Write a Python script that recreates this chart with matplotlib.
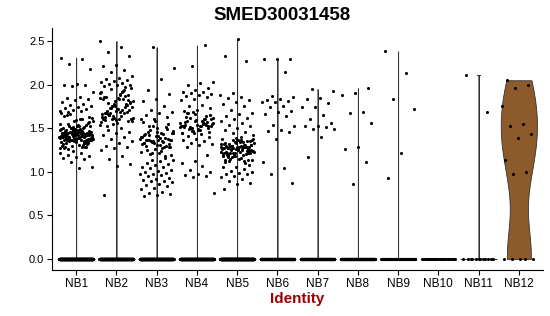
import numpy as np
import matplotlib
matplotlib.use("Agg")
import matplotlib.pyplot as plt

plt.rcParams['font.family'] = ['Liberation Sans', 'DejaVu Sans']

title = "SMED30031458"
xlabel = "Identity"
categories = ["NB1", "NB2", "NB3", "NB4", "NB5", "NB6", "NB7", "NB8", "NB9", "NB10", "NB11", "NB12"]
ytick_labels = ["0.0", "0.5", "1.0", "1.5", "2.0", "2.5"]

# number of cells with zero expression in each identity
zero_counts = [1500, 1200, 1200, 1200, 1500, 500, 450, 400, 120, 30, 12, 5]

# expression values of the non-zero cells
nb1 = [2.31, 2.29, 2.24, 2.18, 2.01, 2.00, 1.99, 1.98, 1.92, 1.86, 1.85, 1.84, 1.82, 1.80, 1.78, 1.77,
       1.75, 1.74, 1.73, 1.72, 1.71, 1.70, 1.70, 1.69,
       1.42, 1.38, 1.45, 1.51, 1.36, 1.40, 1.47, 1.33, 1.44, 1.39, 1.49, 1.41, 1.35, 1.46, 1.52, 1.37,
       1.43, 1.30, 1.48, 1.40, 1.55, 1.38, 1.44, 1.32, 1.41, 1.50, 1.36, 1.46, 1.39, 1.43, 1.58, 1.34,
       1.47, 1.40, 1.37, 1.53, 1.42, 1.29, 1.45, 1.38, 1.60, 1.41, 1.35, 1.49, 1.44, 1.31, 1.46, 1.39,
       1.54, 1.42, 1.36, 1.48, 1.27, 1.43, 1.40, 1.57, 1.37, 1.45, 1.33, 1.50, 1.62, 1.39, 1.44, 1.35,
       1.47, 1.41, 1.28, 1.52, 1.38, 1.46, 1.64, 1.34, 1.43, 1.40, 1.49, 1.36, 1.56, 1.42, 1.30, 1.45,
       1.66, 1.37, 1.48, 1.41, 1.33, 1.51, 1.39, 1.44, 1.26, 1.47, 1.59, 1.40, 1.35, 1.46, 1.42, 1.53,
       1.38, 1.32, 1.49, 1.43, 1.61, 1.36, 1.45, 1.39, 1.47, 1.29, 1.41, 1.55, 1.37, 1.44, 1.63, 1.34,
       1.50, 1.40, 1.46, 1.38, 1.31, 1.48, 1.42, 1.35, 1.67, 1.43, 1.39, 1.52, 1.45, 1.27, 1.41, 1.36,
       1.58, 1.47, 1.65, 1.33, 1.44, 1.40, 1.50, 1.37, 1.46, 1.42, 1.28, 1.54,
       1.24, 1.22, 1.21, 1.19, 1.18, 1.17, 1.16, 1.15, 1.11, 1.06, 1.04]
nb2 = [2.50, 2.43, 2.37, 2.33, 2.22, 2.21, 2.17, 2.15, 2.10, 2.08, 2.06, 2.05, 2.04, 2.03, 2.02, 2.01,
       2.00, 1.99, 1.98, 1.97,
       1.75, 1.62, 1.88, 1.70, 1.58, 1.81, 1.66, 1.93, 1.73, 1.60, 1.85, 1.68, 1.77, 1.55, 1.90, 1.64,
       1.79, 1.71, 1.59, 1.83, 1.67, 1.95, 1.74, 1.61, 1.86, 1.69, 1.78, 1.57, 1.91, 1.65, 1.80, 1.72,
       1.63, 1.87, 1.76, 1.54, 1.89, 1.66, 1.82, 1.70, 1.60, 1.94, 1.73, 1.58, 1.84, 1.68, 1.77, 1.62,
       1.92, 1.71, 1.65, 1.79, 1.56, 1.86, 1.74, 1.61, 1.81, 1.69, 1.53, 1.88, 1.75, 1.63, 1.83, 1.67,
       1.96, 1.72, 1.59, 1.78, 1.64, 1.85,
       1.50, 1.48, 1.46, 1.44, 1.42, 1.40, 1.38, 1.35, 1.33, 1.30, 1.29, 1.27, 1.25, 1.18, 1.15, 1.09,
       1.07, 0.73]
nb3 = [2.43, 2.19, 2.06, 1.94, 1.89, 1.83, 1.81, 1.75, 1.71, 1.69, 1.67, 1.65, 1.63, 1.61, 1.60,
       1.35, 1.42, 1.28, 1.50, 1.33, 1.39, 1.21, 1.45, 1.31, 1.37, 1.55, 1.26, 1.40, 1.34, 1.48, 1.19,
       1.36, 1.43, 1.30, 1.52, 1.38, 1.24, 1.46, 1.32, 1.41, 1.57, 1.29, 1.35, 1.44, 1.22, 1.37, 1.49,
       1.33, 1.40, 1.27, 1.53, 1.36, 1.31, 1.42, 1.18, 1.34, 1.47, 1.39, 1.25, 1.38, 1.58, 1.32, 1.43,
       1.20, 1.36, 1.41, 1.30, 1.51, 1.35, 1.23, 1.44, 1.37, 1.29, 1.46, 1.33,
       1.16, 1.14, 1.13, 1.12, 1.10, 1.09, 1.08, 1.06, 1.05, 1.04, 1.02, 1.01, 1.00, 0.99, 0.98,
       0.97, 0.96, 0.95, 0.93, 0.92, 0.91, 0.90, 0.89, 0.88, 0.86, 0.85, 0.84,
       0.81, 0.80, 0.77, 0.76, 0.75, 0.73, 0.72]
nb4 = [2.45, 2.21, 2.03, 2.02, 1.99, 1.96, 1.94, 1.92, 1.91, 1.90, 1.89, 1.88, 1.87, 1.86, 1.84, 1.82,
       1.77, 1.75, 1.73, 1.71, 1.70,
       1.55, 1.50, 1.62, 1.48, 1.58, 1.53, 1.66, 1.45, 1.57, 1.51, 1.60, 1.49, 1.54, 1.64, 1.47, 1.56,
       1.52, 1.68, 1.46, 1.59, 1.53, 1.61, 1.50, 1.55, 1.48, 1.63, 1.57, 1.44, 1.52, 1.58, 1.49, 1.65,
       1.54, 1.51, 1.60, 1.47, 1.56, 1.53, 1.67, 1.50, 1.58, 1.45, 1.55, 1.62, 1.52, 1.48, 1.57, 1.54,
       1.69, 1.51,
       1.43, 1.41, 1.40, 1.38, 1.36, 1.35, 1.33, 1.32, 1.31, 1.29, 1.19, 1.12, 1.10, 1.07, 1.02, 1.00,
       0.98, 0.96, 0.95, 0.94, 0.76]
nb5 = [2.52, 2.33, 2.27, 1.90, 1.88, 1.86, 1.85, 1.82, 1.80, 1.78, 1.75, 1.71, 1.68, 1.66, 1.64, 1.62,
       1.60, 1.58, 1.56, 1.54, 1.52, 1.50, 1.48, 1.46, 1.44, 1.42, 1.40,
       1.27, 1.22, 1.33, 1.18, 1.29, 1.25, 1.36, 1.15, 1.30, 1.24, 1.20, 1.32, 1.26, 1.12, 1.35, 1.28,
       1.21, 1.31, 1.17, 1.38, 1.23, 1.29, 1.14, 1.34, 1.26, 1.19, 1.30, 1.25, 1.37, 1.11, 1.28, 1.22,
       1.33, 1.16, 1.27, 1.24, 1.39, 1.20, 1.31, 1.26, 1.13, 1.29, 1.23, 1.35, 1.18, 1.28, 1.25, 1.32,
       1.21, 1.36, 1.27, 1.10, 1.30, 1.24, 1.34, 1.19, 1.26, 1.22, 1.38, 1.29, 1.15, 1.31, 1.25, 1.33,
       1.20, 1.27, 1.23, 1.37, 1.17, 1.28, 1.26, 1.32, 1.12, 1.30, 1.24, 1.35, 1.21, 1.29, 1.18, 1.27,
       1.34, 1.22, 1.31, 1.26, 1.14, 1.28, 1.36, 1.23, 1.30, 1.19,
       1.08, 1.06, 1.05, 1.03, 1.01, 1.00, 0.99, 0.98, 0.97, 0.95, 0.94, 0.92, 0.90, 0.87, 0.86, 0.80]
nb6 = [2.29, 2.29, 2.29, 2.14, 1.87, 1.86, 1.83, 1.82, 1.81, 1.80, 1.80, 1.75, 1.74, 1.70, 1.69, 1.66,
       1.64, 1.54, 1.53, 1.48, 1.47, 1.46, 1.38, 1.11, 1.04, 0.98, 0.87]
nb7 = [1.95, 1.93, 1.85, 1.83, 1.79, 1.74, 1.74, 1.65, 1.60, 1.56, 1.52, 1.52, 1.51, 1.49, 1.49, 1.40, 1.17]
nb8 = [1.96, 1.90, 1.88, 1.69, 1.68, 1.56, 1.28, 1.26, 1.11, 0.86]
nb9 = [2.38, 2.13, 1.84, 1.72, 1.21, 0.93]
nb10 = []
nb11 = [2.11, 1.69]
nb12 = [2.05, 2.00, 1.96, 1.75, 1.55, 1.53, 1.43, 1.39, 1.13, 1.00, 0.97]
nonzero_values = [nb1, nb2, nb3, nb4, nb5, nb6, nb7, nb8, nb9, nb10, nb11, nb12]

violin_colors = ["#9a9a9a"] * 11 + ["#8C5A2B"]
bw_adjust = 1.0


def nrd0(x):
    # R's bw.nrd0; a zero IQR (mostly-zero groups) gives the near-zero bandwidth
    # that Seurat's tiny added noise produces
    x = np.asarray(x, float)
    hi = np.std(x, ddof=1)
    q75, q25 = np.percentile(x, [75, 25])
    lo = min(hi, (q75 - q25) / 1.34)
    if lo == 0:
        lo = 1e-5
    return 0.9 * lo * len(x) ** (-0.2)


def kde(x, grid, bw):
    d = np.zeros_like(grid)
    for chunk in np.array_split(x, max(1, len(x) // 500)):
        d += np.exp(-0.5 * ((grid[:, None] - chunk[None, :]) / bw) ** 2).sum(axis=1)
    return d / (len(x) * bw * np.sqrt(2 * np.pi))


fig = plt.figure(figsize=(5.5, 3.16), dpi=100)
ax = fig.add_axes([52 / 550, 46 / 316, 491 / 550, 242 / 316])

half_width = 0.45
jit = 0.42
golden = 0.6180339887
for i, (name, vals, nz) in enumerate(zip(categories, nonzero_values, zero_counts)):
    pos = i + 1
    data = np.concatenate([np.zeros(nz), np.asarray(vals, float)])
    if data.max() > data.min():
        bw = nrd0(data) * bw_adjust
        grid = np.linspace(data.min(), data.max(), 512)
        dens = kde(data, grid, bw)
        w = half_width * dens / dens.max()
        ax.fill_betweenx(grid, pos - w, pos + w, facecolor=violin_colors[i],
                         edgecolor="#333333", linewidth=0.6, zorder=2)
    # deterministic jitter offsets (low-discrepancy sequence)
    k = np.arange(len(data))
    offs = ((k * golden + 0.37 * i) % 1.0) * 2 - 1
    ax.scatter(pos + offs * jit, data, s=5, color="black", linewidths=0, zorder=3)

ax.set_xlim(0.4, 12.6)
ax.set_ylim(-0.126, 2.649)
ax.set_xticks(np.arange(1, len(categories) + 1))
ax.set_xticklabels(categories, fontsize=8.5)
ax.set_yticks([float(t) for t in ytick_labels])
ax.set_yticklabels(ytick_labels, fontsize=8)
for s in ["top", "right"]:
    ax.spines[s].set_visible(False)
for s in ["left", "bottom"]:
    ax.spines[s].set_linewidth(0.8)
ax.tick_params(axis="both", length=3.5, width=0.8, color="black", labelcolor="black", pad=2)

fig.text(282 / 550, 1 - 15 / 316, title, ha="center", va="center", fontsize=13.5, fontweight="bold")
fig.text(297 / 550, 1 - 299 / 316, xlabel, ha="center", va="center", fontsize=11,
         fontweight="bold", color="#A00000")

fig.savefig("out.png", dpi=100)
